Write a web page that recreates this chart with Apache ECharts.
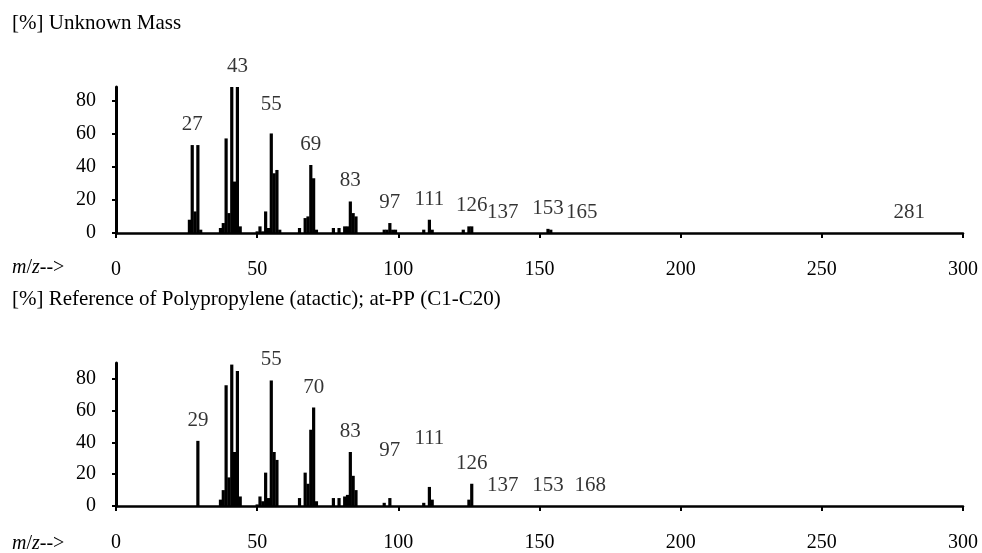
<!DOCTYPE html>
<html>
<head>
<meta charset="utf-8">
<title>Mass spectra</title>
<script src="https://cdn.jsdelivr.net/npm/echarts@6/dist/echarts.min.js"></script>
<style>
  html, body { margin: 0; padding: 0; background: #fff; }
  #chart { width: 982px; height: 553px; }
</style>
</head>
<body>
<div id="chart"></div>
<script>
// unknown sample spectrum (m/z, relative intensity %)
var unknownMz  = [26, 27, 28, 29, 30, 37, 38, 39, 40, 41, 42, 43, 44,
                  50, 51, 52, 53, 54, 55, 56, 57, 58,
                  65, 67, 68, 69, 70, 71, 77, 79, 81, 82, 83, 84, 85,
                  95, 96, 97, 98, 99, 109, 111, 112, 123, 125, 126, 153, 154];
var unknownInt = [8, 53, 13, 53, 2, 3, 6, 57, 12, 100, 31, 100, 4,
                  1, 4, 1, 13, 3, 60, 36, 38, 2,
                  3, 9, 10, 41, 33, 2, 3, 3, 4, 4, 19, 12, 10,
                  2, 2, 6, 2, 2, 2, 8, 2, 2, 4, 4, 2.5, 2];
var unknownLabels = [27, 43, 55, 69, 83, 97, 111, 126, 137, 153, 165, 281];

// reference spectrum of atactic polypropylene
var refMz  = [29, 37, 38, 39, 40, 41, 42, 43, 44,
              50, 51, 52, 53, 54, 55, 56, 57,
              65, 67, 68, 69, 70, 71, 77, 79, 81, 82, 83, 84, 85,
              95, 97, 109, 111, 112, 125, 126];
var refInt = [41, 4, 10, 76, 18, 89, 34, 85, 6,
              1, 6, 3, 21, 5, 79, 34, 29,
              5, 21, 14, 48, 62, 3, 5, 5, 6, 7, 34, 19, 10,
              2, 5, 2, 12, 4, 4, 14];
var refLabels = [29, 55, 70, 83, 97, 111, 126, 137, 153, 168];

var xTicks = [0, 50, 100, 150, 200, 250, 300];
var yTicks = [0, 20, 40, 60, 80];

var FONT = '"Liberation Serif", "Times New Roman", serif';

var panels = [
    { title: '[%] Unknown Mass', mz: unknownMz, val: unknownInt, labels: unknownLabels,
      top: 87, yMax: 88, lift: { 55: 8 } },
    { title: '[%] Reference of Polypropylene (atactic); at-PP (C1-C20)', mz: refMz, val: refInt, labels: refLabels,
      top: 363, yMax: 90, lift: { 97: 27, 111: 28 } }
];

var grids = [], xAxes = [], yAxes = [], series = [], graphics = [];

panels.forEach(function (p, i) {
    grids.push({ left: 116, right: 19, top: p.top, height: 146 });

    xAxes.push({
        gridIndex: i, type: 'value', min: 0, max: 300, interval: 50,
        axisLine: { show: true, lineStyle: { color: '#000', width: 2.5 } },
        axisTick: { show: true, length: 5, lineStyle: { color: '#000', width: 2 } },
        axisLabel: { margin: 27, fontSize: 20, color: '#000', fontFamily: FONT,
                     customValues: xTicks },
        splitLine: { show: false }
    });

    yAxes.push({
        gridIndex: i, type: 'value', min: 0, max: p.yMax,
        axisLine: { show: true, lineStyle: { color: '#000', width: 3 } },
        axisTick: { show: true, length: 4, customValues: yTicks, lineStyle: { color: '#000', width: 2 } },
        axisLabel: { margin: 20, fontSize: 20, color: '#000', fontFamily: FONT, customValues: yTicks },
        splitLine: { show: false }
    });

    var bars = p.mz.map(function (m, k) { return [m, p.val[k]]; });
    series.push({
        type: 'bar', xAxisIndex: i, yAxisIndex: i,
        data: bars, barWidth: 3.2, barGap: '-100%',
        itemStyle: { color: '#000' },
        clip: true, silent: true, animation: false
    });

    //peak labels sit above the (clipped) peak top
    var lbl = p.labels.map(function (m) {
        var k = p.mz.indexOf(m);
        var v = k >= 0 ? Math.min(p.val[k], p.yMax) : 0;
        return {
            value: [m, v],
            label: { distance: 10 + (p.lift[m] || 0) }
        };
    });
    series.push({
        type: 'scatter', xAxisIndex: i, yAxisIndex: i,
        data: lbl, symbolSize: 0, clip: false, silent: true, animation: false,
        itemStyle: { color: '#000' },
        label: {
            show: true, position: 'top', fontSize: 21, color: '#000', fontFamily: FONT,
            formatter: function (d) { return d.value[0]; }
        }
    });

    graphics.push({
        type: 'text', left: 12, top: i === 0 ? 13 : 289,
        style: { text: p.title, font: '21px ' + FONT, fill: '#000' }
    });
    graphics.push({
        type: 'text', left: 12, top: p.top + 146 + 25,
        style: {
            text: '{i|m}/{i|z}-->',
            font: '20px ' + FONT, fill: '#000',
            rich: { i: { fontStyle: 'italic', fontSize: 20, fontFamily: FONT } }
        }
    });
});

var myChart = echarts.init(document.getElementById('chart'));
myChart.setOption({
    animation: false,
    backgroundColor: '#fff',
    grid: grids,
    xAxis: xAxes,
    yAxis: yAxes,
    series: series,
    graphic: graphics
});
</script>
</body>
</html>
